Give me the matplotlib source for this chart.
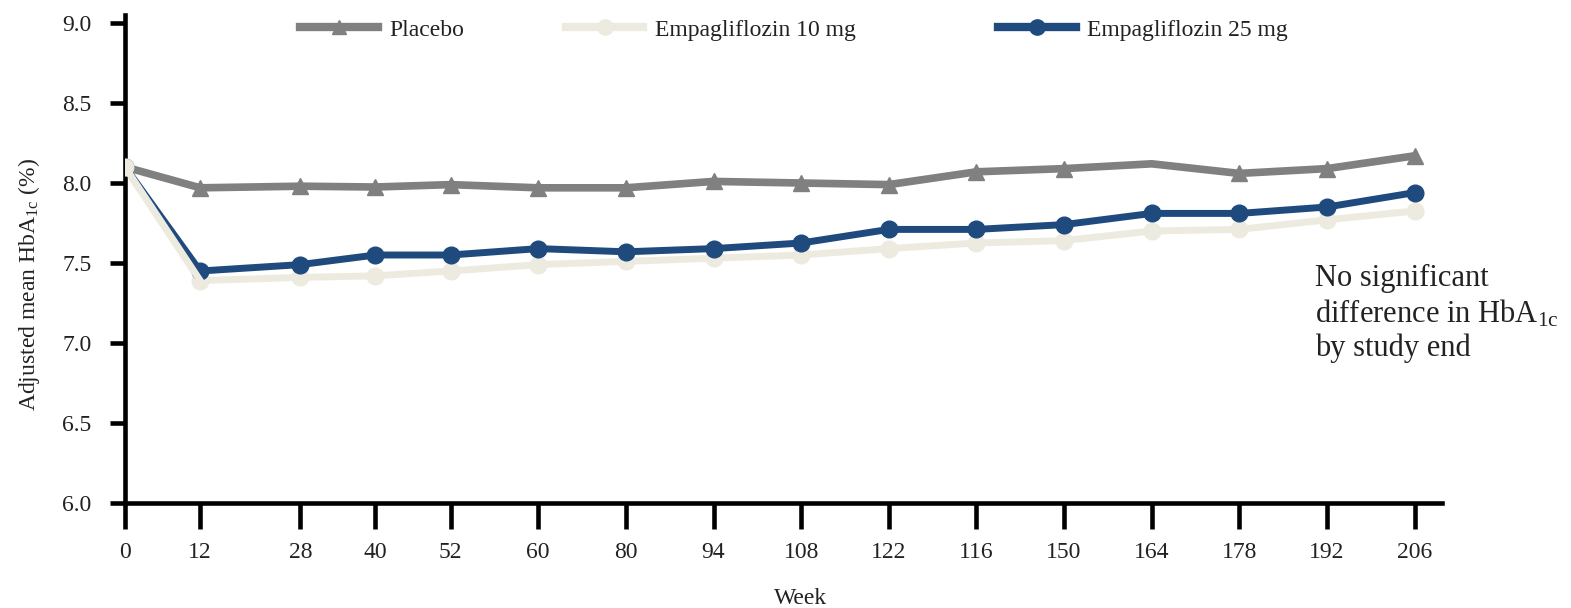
import matplotlib
matplotlib.use("Agg")
import matplotlib.pyplot as plt
from matplotlib.lines import Line2D

plt.rcParams['font.family'] = ['Liberation Serif', 'DejaVu Serif']
plt.rcParams['mathtext.fontset'] = 'custom'
plt.rcParams['mathtext.rm'] = 'Liberation Serif'
plt.rcParams['mathtext.it'] = 'Liberation Serif:italic'

# Data
weeks = [0, 12, 28, 40, 52, 66, 80, 94, 108, 122, 136, 150, 164, 178, 192, 206]
week_labels = ['0', '12', '28', '40', '52', '60', '80', '94', '108', '122',
               '116', '150', '164', '178', '192', '206']
placebo = [8.10, 7.97, 7.98, 7.975, 7.99, 7.97, 7.97, 8.01, 8.00, 7.99,
           8.07, 8.09, 8.12, 8.06, 8.09, 8.17]
empa10 = [8.10, 7.39, 7.41, 7.42, 7.45, 7.49, 7.51, 7.53, 7.55, 7.59,
          7.625, 7.64, 7.70, 7.71, 7.77, 7.825]
empa25 = [8.10, 7.45, 7.49, 7.55, 7.55, 7.59, 7.57, 7.59, 7.625, 7.71,
          7.71, 7.74, 7.81, 7.81, 7.85, 7.94]
placebo_marker_idx = [1, 2, 3, 4, 5, 6, 7, 8, 9, 10, 11, 13, 14, 15]
yticks = [6.0, 6.5, 7.0, 7.5, 8.0, 8.5, 9.0]

c_pl = '#808080'
c_10 = '#EDEBE0'
c_25 = '#1F4A7E'
c_txt = '#222222'

fig = plt.figure(figsize=(15.71, 6.08), dpi=100)
ax = fig.add_axes([0.0796, 0.1727, 0.8384, 0.8026])

ax.plot(weeks, placebo, color=c_pl, lw=5.5, marker='^', markersize=11,
        markevery=placebo_marker_idx, zorder=3)
ax.plot(weeks, empa25, color=c_25, lw=5, marker='o', markersize=12, zorder=4)
ax.plot(weeks, empa10, color=c_10, lw=5, marker='o', markersize=12, zorder=2)
# start point: cream marker over the others
ax.plot(weeks[:2], empa10[:2], color=c_10, lw=5, marker='o', markersize=12,
        markevery=[0], zorder=5)

ax.set_xlim(0, 210.4)
ax.set_ylim(6.0, 9.05)
ax.set_yticks(yticks)
ax.set_yticklabels([f'{v:.1f}' for v in yticks])
ax.set_xticks(weeks)
ax.set_xticklabels(week_labels)

for s in ['top', 'right']:
    ax.spines[s].set_visible(False)
for s in ['left', 'bottom']:
    ax.spines[s].set_linewidth(3.3)
    ax.spines[s].set_color('black')

ax.tick_params(axis='y', length=11, width=3.3, pad=13, labelsize=17,
               colors='black', labelcolor=c_txt)
ax.tick_params(axis='x', length=19, width=3.3, pad=9, labelsize=17,
               colors='black', labelcolor=c_txt)

ax.set_xlabel('Week', fontsize=17, color=c_txt)
ax.xaxis.set_label_coords(0.513, -0.175)
ax.set_ylabel(r'Adjusted mean HbA$_{\mathrm{1c}}$ (%)', fontsize=17,
              color=c_txt)
ax.yaxis.set_label_coords(-0.063, 0.447)

ax.text(0.9036, 0.49, 'No significant\ndifference in HbA$_{\\mathrm{1c}}$\nby study end',
        transform=ax.transAxes, fontsize=22, va='top', ha='left',
        linespacing=1.2, color=c_txt)

# Legends (three separate entries)
def add_leg(handle, label, x):
    leg = fig.legend([handle], [label], loc='center left',
                     bbox_to_anchor=(x, 0.951), frameon=False, fontsize=17,
                     handlelength=3.3, handletextpad=0.5, borderpad=0,
                     borderaxespad=0)
    for t in leg.get_texts():
        t.set_color(c_txt)
    return leg

h_pl = Line2D([], [], color=c_pl, lw=6, marker='^', markersize=10)
h_10 = Line2D([], [], color=c_10, lw=6, marker='o', markersize=11)
h_25 = Line2D([], [], color=c_25, lw=6, marker='o', markersize=11)
add_leg(h_pl, 'Placebo', 0.191)
add_leg(h_10, 'Empagliflozin 10 mg', 0.360)
add_leg(h_25, 'Empagliflozin 25 mg', 0.635)

fig.savefig('out.png', dpi=100)
